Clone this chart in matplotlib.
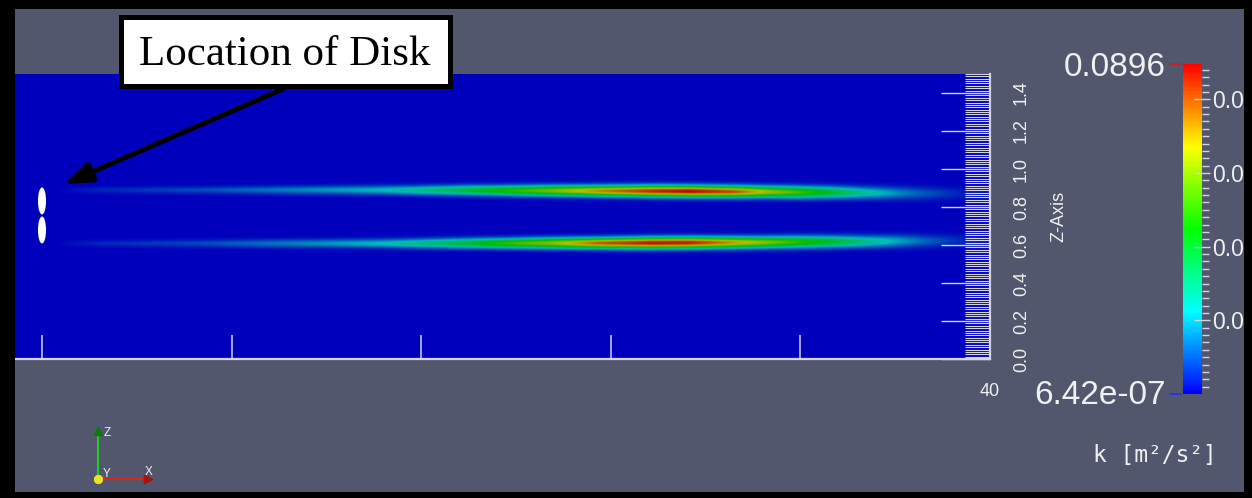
import numpy as np
import matplotlib
matplotlib.use("Agg")
import matplotlib.pyplot as plt
from matplotlib.colors import ListedColormap, Normalize, hsv_to_rgb
from matplotlib.cm import ScalarMappable
from matplotlib.patches import Ellipse, Rectangle
from matplotlib.lines import Line2D
from matplotlib.ticker import MultipleLocator

# ---- colour range of turbulent kinetic energy k [m2/s2] ----
k_min = 6.42e-07
k_max = 0.0896

# ---- stations along the channel (x) and the two blade-tip wakes ----
x_st = [-1.5, 0.5, 2.45, 6.67, 10.9, 14.3, 15.9, 18.1, 19.3, 21.4, 23.5, 25.7,
        27.3, 29.2, 30.6, 32.0, 33.4, 34.8, 36.2, 37.2, 38.7, 40.0]
k_upper = [0.0, 0.0, 0.0045, 0.0090, 0.0161, 0.0224, 0.0287, 0.0394, 0.0466,
           0.0582, 0.0735, 0.0851, 0.0896, 0.0806, 0.0645, 0.0520, 0.0403, 0.0269,
           0.0161, 0.0108, 0.0045, 0.0018]
k_lower = [0.0, 0.0, 0.0045, 0.0090, 0.0161, 0.0224, 0.0296, 0.0403, 0.0493,
           0.0609, 0.0788, 0.0878, 0.0869, 0.0717, 0.0609, 0.0493, 0.0403, 0.0296,
           0.0197, 0.0125, 0.0054, 0.0018]
z_upper = [0.889, 0.889, 0.889, 0.889, 0.889, 0.889, 0.888, 0.888, 0.887, 0.886,
           0.885, 0.884, 0.883, 0.881, 0.880, 0.878, 0.877, 0.875, 0.873, 0.872,
           0.871, 0.870]
z_lower = [0.608, 0.608, 0.608, 0.608, 0.608, 0.608, 0.608, 0.609, 0.609, 0.610,
           0.610, 0.611, 0.612, 0.613, 0.614, 0.616, 0.617, 0.618, 0.620, 0.621,
           0.622, 0.623]
w_st = [0.011, 0.011, 0.012, 0.013, 0.015, 0.016, 0.017, 0.018, 0.018, 0.019,
        0.019, 0.020, 0.020, 0.020, 0.020, 0.021, 0.021, 0.021, 0.022, 0.022,
        0.022, 0.022]

# ---- rotor disk (two blades seen edge-on) ----
disk_x = 0.0
blade_z = [0.832, 0.679]
blade_len = 0.142
blade_thk = 0.34

# ---- axes ticks ----
x_ticks = [0, 8, 16, 24, 32, 40]
x_ticklabels = ["", "", "", "", "", "40"]
z_ticks = [0.0, 0.2, 0.4, 0.6, 0.8, 1.0, 1.2, 1.4]
cbar_ticks = [0.02, 0.04, 0.06, 0.08]

W, H = 1252, 498
BG = "#52576e"
AXC = "#d4d4e6"
TXT = "#f0f0f0"


def fp(px, py):
    """pixel position (from top-left) -> figure fraction"""
    return px / W, 1 - py / H


fig = plt.figure(figsize=(W / 100, H / 100), dpi=100, facecolor=BG)

# blue-to-red rainbow (HSV hue 240 deg -> 0 deg)
hues = np.linspace(2 / 3, 0, 256)
rgb = hsv_to_rgb(np.stack([hues, np.ones_like(hues), np.ones_like(hues)], axis=-1))
cmap_bar = ListedColormap(rgb)
cmap_field = ListedColormap(rgb * 0.74)  # lit surface is rendered darker

# ---- main slice ----
x0, x1, z0, z1 = -1.5, 40.0, 0.0, 1.5
l, b = fp(42 + x0 * 23.7, 359)
r, t = fp(990, 74)
ax = fig.add_axes([l, b, r - l, t - b])
ax.set_facecolor(BG)

xg = np.linspace(x0, x1, 1400)
zg = np.linspace(z0, z1, 1200)
Z = zg[:, None]


def tip_wake(k_pk, z_c):
    pk = np.interp(xg, x_st, k_pk)[None, :]
    zc = np.interp(xg, x_st, z_c)[None, :]
    sg = np.interp(xg, x_st, w_st)[None, :]
    return pk * np.exp(-0.5 * ((Z - zc) / sg) ** 2)


K = np.maximum(tip_wake(k_upper, z_upper), tip_wake(k_lower, z_lower)) + k_min
ax.imshow(K, extent=[x0, x1, z0, z1], origin="lower", aspect="auto",
          cmap=cmap_field, vmin=k_min, vmax=k_max, interpolation="bilinear")

for zc in blade_z:
    ax.add_patch(Ellipse((disk_x, zc), blade_thk, blade_len, facecolor="white",
                         edgecolor="none", zorder=3))

ax.set_xlim(x0, x1)
ax.set_ylim(z0, z1)
for s in ("top", "left"):
    ax.spines[s].set_visible(False)
for s in ("bottom", "right"):
    ax.spines[s].set_color(AXC)
    ax.spines[s].set_linewidth(1.6)

ax.set_xticks(x_ticks, x_ticklabels)
ax.tick_params(axis="x", which="major", direction="in", length=17, width=1.1,
               color=AXC, labelsize=13, labelcolor=TXT, pad=17)
for lab in ax.get_xticklabels():
    lab.set_family("Liberation Sans")

ax.yaxis.tick_right()
ax.yaxis.set_label_position("right")
ax.set_yticks(z_ticks, [f"{v:.1f}" for v in z_ticks])
ax.yaxis.set_minor_locator(MultipleLocator(0.0125))
ax.tick_params(axis="y", which="major", direction="in", length=35, width=1.0,
               color=AXC, labelsize=13, labelcolor=TXT, pad=16.5, labelrotation=90)
ax.tick_params(axis="y", which="minor", direction="in", length=18, width=0.8,
               color=AXC)
for lab in ax.get_yticklabels():
    lab.set_family("Liberation Sans")
    lab.set_verticalalignment("center")
ax.set_ylabel("Z-Axis", rotation=90, color=TXT, fontsize=13,
              family="Liberation Sans", labelpad=15)

# ---- colour bar ----
cl, cb_ = fp(1183, 394)
cr, ct = fp(1202, 64)
cax = fig.add_axes([cl, cb_, cr - cl, ct - cb_])
cb = fig.colorbar(ScalarMappable(norm=Normalize(k_min, k_max), cmap=cmap_bar), cax=cax)
cb.outline.set_visible(False)
cb.set_ticks(cbar_ticks, labels=[f"{v:.2f}" for v in cbar_ticks])
cax.yaxis.set_minor_locator(MultipleLocator(0.002))
cax.tick_params(axis="y", which="major", direction="inout", length=12, width=1.0,
                color=AXC, labelsize=16.5, labelcolor=TXT, pad=1.5)
cax.tick_params(axis="y", which="minor", direction="out", length=5, width=1.0,
                color=AXC)
for lab in cax.get_yticklabels():
    lab.set_family("Liberation Sans")

for val, col in ((k_max, "#e0141e"), (k_min, "#2a2aff")):
    ypx = 394 - (val - k_min) / (k_max - k_min) * 330
    xa, ya = fp(1170, ypx)
    xb, _ = fp(1181, ypx)
    fig.add_artist(Line2D([xa, xb], [ya, ya], color=col, lw=1.2,
                          transform=fig.transFigure))

fig.text(*fp(1166, 76), f"{k_max:.4f}", ha="right", va="baseline", fontsize=24,
         color=TXT, family="Liberation Sans")
fig.text(*fp(1166, 404), f"{k_min:.2e}", ha="right", va="baseline", fontsize=24,
         color=TXT, family="Liberation Sans")
fig.text(*fp(1155, 462), "k [m²/s²]", ha="center", va="baseline", fontsize=16.5,
         color=TXT, family="DejaVu Sans Mono")

# ---- orientation triad ----
ox, oy = 98, 479


def seg(p, q, **kw):
    (xa, ya), (xb, yb) = fp(*p), fp(*q)
    fig.add_artist(Line2D([xa, xb], [ya, ya if ya == yb else yb],
                          transform=fig.transFigure, **kw))


seg((ox, oy), (ox, 432), color="#22cc22", lw=1.5)
seg((ox, oy), (146, oy), color="#dd2222", lw=1.5)
seg((ox, 431), (ox, 431), marker="^", ms=6, color="#117711", lw=0)
seg((148, oy), (148, oy), marker=">", ms=6, color="#aa1111", lw=0)
seg((ox, oy), (ox, oy), marker="o", ms=5.5, color="#f0e020", lw=0)
for lbl, px, py in (("Z", 104, 436), ("Y", 103, 477), ("X", 145, 475)):
    fig.text(*fp(px, py), lbl, fontsize=8.5, color=TXT, family="Liberation Sans")

# ---- callout ----
ax.annotate("", xy=(0.93, 0.92), xycoords="data",
            xytext=fp(283, 89), textcoords="figure fraction",
            arrowprops=dict(arrowstyle="-|>,head_length=1.1,head_width=0.4",
                            lw=3.6, color="black", shrinkA=0, shrinkB=0,
                            mutation_scale=15), zorder=5)
bx0, by0 = fp(120.5, 86.5)
bx1, by1 = fp(449.5, 17.5)
fig.add_artist(Rectangle((bx0, by0), bx1 - bx0, by1 - by0, facecolor="white",
                         edgecolor="black", lw=3.6, transform=fig.transFigure,
                         zorder=20))
fig.text(*fp(285, 65), "Location of Disk", ha="center", va="baseline", fontsize=31,
         color="black", family="Liberation Serif", zorder=21)

# ---- screenshot frame ----
for (px, py, pw, ph) in ((0, 0, 15, H), (0, 0, W, 9), (W - 8, 0, 8, H), (0, H - 6, W, 6)):
    xa, ya = fp(px, py + ph)
    fig.add_artist(Rectangle((xa, ya), pw / W, ph / H, facecolor="black",
                             edgecolor="none", transform=fig.transFigure, zorder=50))

fig.savefig("out.png", dpi=100, facecolor=BG)
